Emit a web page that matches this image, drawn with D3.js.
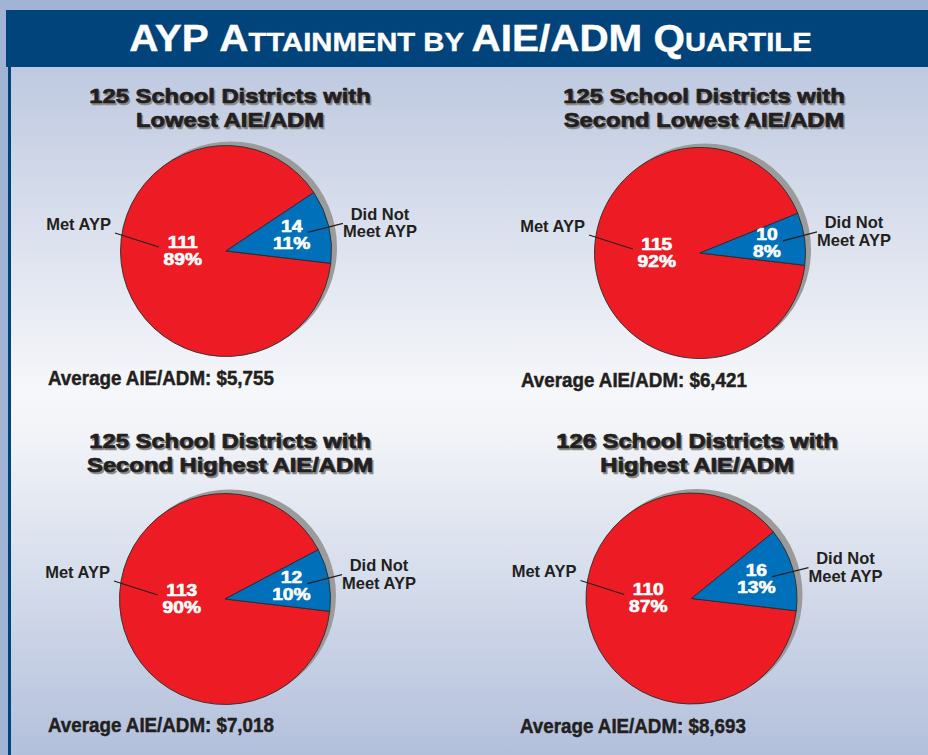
<!DOCTYPE html>
<html><head><meta charset="utf-8">
<script src="https://cdn.jsdelivr.net/npm/d3@7"></script>
<style>html,body{margin:0;padding:0;overflow:hidden;background:#a2b4d5}</style>
</head><body><svg id="chart" width="928" height="755"></svg>
<script>
// ---- data ----
const titleLine1 = ["125 School Districts with", "125 School Districts with", "125 School Districts with", "126 School Districts with"];
const titleLine2 = ["Lowest AIE/ADM", "Second Lowest AIE/ADM", "Second Highest AIE/ADM", "Highest AIE/ADM"];
const categories = ["Met AYP", "Did Not Meet AYP"];
const metAYP = [111, 115, 113, 110];
const didNotMeetAYP = [14, 10, 12, 16];
const avgAIE = [5755, 6421, 7018, 8693];
const mainTitle = "AYP Attainment by AIE/ADM Quartile";

// ---- layout ----
const W = 928, H = 755;
const layout = [
  {cx: 226, cy: 251, tx: 230, ty: 103, ax: 48, ay: 385},
  {cx: 700, cy: 253, tx: 704, ty: 103, ax: 521, ay: 387},
  {cx: 225, cy: 599, tx: 230, ty: 448, ax: 48, ay: 732},
  {cx: 691.5, cy: 598.5, tx: 697, ty: 448, ax: 520, ay: 733}
];
const R = 105.5;
const colors = {"Met AYP": "#ed1c24", "Did Not Meet AYP": "#0070bb"};
const ink = "#231f20";
const FONT = "'Liberation Sans', Arial, sans-serif";

const svg = d3.select("#chart");
const defs = svg.append("defs");
const grad = defs.append("linearGradient").attr("id", "bg").attr("x1", 0).attr("y1", 0).attr("x2", 0).attr("y2", 1);
[[0, "#bec9e0"], [0.47, "#f6f7fa"], [0.53, "#f2f4f8"], [1, "#b3c0dc"]].forEach(([o, c]) =>
  grad.append("stop").attr("offset", o).attr("stop-color", c));

svg.append("rect").attr("width", W).attr("height", H).attr("fill", "#a2b4d5");
svg.append("rect").attr("x", 8).attr("y", 60).attr("width", W - 8).attr("height", H - 60).attr("fill", "#00447b");
svg.append("rect").attr("x", 11).attr("y", 67).attr("width", W - 11).attr("height", H - 67).attr("fill", "url(#bg)");
svg.append("rect").attr("x", 6).attr("y", 10).attr("width", W - 6).attr("height", 57).attr("fill", "#00447b");

// main title with small caps
{
  const g = svg.append("g");
  const t = g.append("text").attr("x", 0).attr("y", 0).attr("text-anchor", "middle")
    .attr("font-family", FONT).attr("font-weight", "bold").attr("fill", "#fff")
    .attr("stroke", "#fff").attr("stroke-width", 0.4);
  const words = mainTitle.split(" ");
  words.forEach((wd, i) => {
    const isAcr = wd === wd.toUpperCase();
    if (isAcr) {
      t.append("tspan").attr("font-size", 36).text(wd + (i < words.length - 1 ? " " : ""));
    } else if (wd.toLowerCase() === wd) {
      t.append("tspan").attr("font-size", 26).text(wd.toUpperCase() + " ");
    } else {
      t.append("tspan").attr("font-size", 36).text(wd[0]);
      t.append("tspan").attr("font-size", 26).text(wd.slice(1).toUpperCase() + (i < words.length - 1 ? " " : ""));
    }
  });
  const s = 681 / t.node().getComputedTextLength();
  g.attr("transform", `translate(470.5,51) scale(${s},1)`);
}

// helper for scaled text
function scaledText(parent, x, y, str, opts) {
  const g = parent.append("g");
  const t = g.append("text").attr("text-anchor", opts.anchor || "middle")
    .attr("font-family", FONT).attr("font-weight", "bold")
    .attr("font-size", opts.size).attr("fill", opts.fill || ink)
    .text(str);
  if (opts.stroke) t.attr("stroke", opts.fill || ink).attr("stroke-width", opts.stroke).attr("stroke-linejoin", "round");
  let s = opts.scale || 1;
  if (opts.width) s = opts.width / t.node().getComputedTextLength();
  g.attr("transform", `translate(${x},${y}) scale(${s},1)`);
  return g;
}

const pie = d3.pie().sort(null).value(d => d.value)
  .startAngle(96.7 * Math.PI / 180).endAngle(96.7 * Math.PI / 180 + 2 * Math.PI);
const arc = d3.arc().innerRadius(0).outerRadius(R);
const labelArc = d3.arc().innerRadius(R * 0.64).outerRadius(R * 0.64);
const fmtMoney = d3.format("$,");

layout.forEach((L, i) => {
  const total = metAYP[i] + didNotMeetAYP[i];
  const data = [
    {cat: categories[0], value: metAYP[i]},
    {cat: categories[1], value: didNotMeetAYP[i]}
  ];
  const arcs = pie(data);

  // titles (with drop shadow)
  [[titleLine1[i], L.ty], [titleLine2[i], L.ty + 24]].forEach(([str, y]) => {
    scaledText(svg, L.tx + 1.6, y + 1.6, str, {size: 19.5, scale: 1.22, fill: "#8a8a8a", stroke: 0.7});
    scaledText(svg, L.tx, y, str, {size: 19.5, scale: 1.22, fill: ink, stroke: 0.7});
  });

  const g = svg.append("g").attr("transform", `translate(${L.cx},${L.cy})`);
  // shadow
  g.append("circle").attr("cx", 5).attr("cy", -3.5).attr("r", R + 0.5).attr("fill", "#9b9b9b");
  g.selectAll("path.slice").data(arcs).join("path").attr("class", "slice")
    .attr("d", arc).attr("fill", d => colors[d.data.cat])
    .attr("stroke", "#2a2a2a").attr("stroke-width", 0.9).attr("stroke-linejoin", "round");

  // in-slice labels
  const redPos = [-0.41 * R, 0];
  const bluePos = labelArc.centroid(arcs[1]);
  [[arcs[0], redPos], [arcs[1], bluePos]].forEach(([a, p]) => {
    const pct = Math.round(a.data.value / total * 100) + "%";
    scaledText(g, p[0], p[1] - 3.5, String(a.data.value), {size: 16, scale: 1.2, fill: "#fff", stroke: 0.6});
    scaledText(g, p[0], p[1] + 13.5, pct, {size: 16, scale: 1.2, fill: "#fff", stroke: 0.6});
  });

  // outside labels
  const metX = -115, metY = -27;
  scaledText(g, metX, metY + 5.5, categories[0], {size: 16.5, anchor: "end"});
  g.append("line").attr("x1", metX + 4).attr("y1", metY + 9)
    .attr("x2", redPos[0] - 24).attr("y2", redPos[1] - 4)
    .attr("stroke", ink).attr("stroke-width", 1.3);

  const dnX = 154, dnY = bluePos[1] - 12;
  scaledText(g, dnX, dnY - 3.5, "Did Not", {size: 16.5});
  scaledText(g, dnX, dnY + 14, "Meet AYP", {size: 16.5});
  g.append("line").attr("x1", bluePos[0] + 16).attr("y1", bluePos[1] - 3)
    .attr("x2", dnX - 37).attr("y2", dnY)
    .attr("stroke", ink).attr("stroke-width", 1.3);

  // average
  scaledText(svg, L.ax, L.ay, "Average AIE/ADM:  " + fmtMoney(avgAIE[i]), {size: 20.5, anchor: "start", width: 226, stroke: 0.5});
});
</script></body></html>
